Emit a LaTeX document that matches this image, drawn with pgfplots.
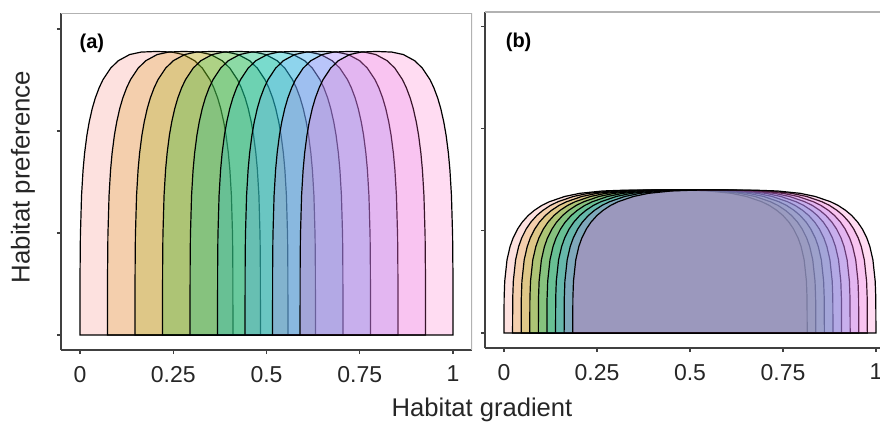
\documentclass[border=0pt]{standalone}
\usepackage{pgfplots}
\pgfplotsset{compat=1.18}
\usepackage{pgfplotstable}
\usepackage{fontspec}
\setmainfont{Liberation Sans}

\definecolor{c0}{HTML}{F8766D}
\definecolor{c1}{HTML}{D39200}
\definecolor{c2}{HTML}{93AA00}
\definecolor{c3}{HTML}{00BA38}
\definecolor{c4}{HTML}{00C19F}
\definecolor{c5}{HTML}{00B9E3}
\definecolor{c6}{HTML}{619CFF}
\definecolor{c7}{HTML}{DB72FB}
\definecolor{c8}{HTML}{FF61C3}

% measured profile of one preference curve, panel (a): offset from left edge, height
\pgfplotstableread{
d y
0 0
0.0002 0.651
0.001 0.972
0.0041 1.369
0.0082 1.620
0.0123 1.784
0.01845 1.959
0.0246 2.088
0.0328 2.221
0.041 2.324
0.05125 2.424
0.0615 2.503
0.082 2.616
0.1025 2.689
0.13325 2.750
0.164 2.774
0.205 2.780
0.246 2.774
0.27675 2.750
0.3075 2.689
0.328 2.616
0.3485 2.503
0.35875 2.424
0.369 2.324
0.3772 2.221
0.3854 2.088
0.39155 1.959
0.3977 1.784
0.4018 1.620
0.4059 1.369
0.409 0.972
0.4098 0.651
0.41 0
}\shapeA

% measured profile, panel (b)
\pgfplotstableread{
d y
0 0
0.0004 0.340
0.00204 0.508
0.00815 0.716
0.0163 0.846
0.02445 0.930
0.03668 1.019
0.0489 1.085
0.0652 1.151
0.0815 1.201
0.10188 1.250
0.12225 1.286
0.163 1.337
0.20375 1.368
0.26488 1.391
0.326 1.399
0.4075 1.400
0.489 1.399
0.55013 1.391
0.61125 1.368
0.652 1.337
0.69275 1.286
0.71313 1.250
0.7335 1.201
0.7498 1.151
0.7661 1.085
0.77833 1.019
0.79055 0.930
0.7987 0.846
0.80685 0.716
0.81296 0.508
0.8146 0.340
0.815 0
}\shapeB

\pgfplotsset{
  panel/.style={
    scale only axis,
    xmin=-0.051, xmax=1.051,
    ymin=-0.147,
    axis x line*=bottom, axis y line*=left,
    axis line style={black!75, line width=0.6pt},
    tick align=outside,
    major tick length=2pt,
    tick style={black!75, line width=0.6pt},
    xtick={0,0.25,0.5,0.75,1},
    xticklabels={0,0.25,0.5,0.75,1},
    ytick={0,1,2,3},
    yticklabels={},
    ticklabel style={font=\fontsize{11.5}{13}\selectfont, text=black!85},
    xticklabel style={yshift=-2.5pt},
  },
  curve/.style={draw=black, line width=0.6pt, fill=#1, fill opacity=0.22},
}

\begin{document}
\begin{tikzpicture}[x=1pt,y=1pt]
% panel (a)
\begin{axis}[panel, at={(30.5pt,37pt)}, anchor=south west,
  width=205.5pt, height=168.5pt, ymax=3.157]
\addplot[curve=c0] table[x expr=\thisrow{d}+0.0, y=y] {\shapeA} \closedcycle;
\addplot[curve=c1] table[x expr=\thisrow{d}+0.07375, y=y] {\shapeA} \closedcycle;
\addplot[curve=c2] table[x expr=\thisrow{d}+0.1475, y=y] {\shapeA} \closedcycle;
\addplot[curve=c3] table[x expr=\thisrow{d}+0.22125, y=y] {\shapeA} \closedcycle;
\addplot[curve=c4] table[x expr=\thisrow{d}+0.295, y=y] {\shapeA} \closedcycle;
\addplot[curve=c5] table[x expr=\thisrow{d}+0.36875, y=y] {\shapeA} \closedcycle;
\addplot[curve=c6] table[x expr=\thisrow{d}+0.4425, y=y] {\shapeA} \closedcycle;
\addplot[curve=c7] table[x expr=\thisrow{d}+0.51625, y=y] {\shapeA} \closedcycle;
\addplot[curve=c8] table[x expr=\thisrow{d}+0.59, y=y] {\shapeA} \closedcycle;
\draw[black!30, line width=0.6pt] (rel axis cs:0,1) -- (rel axis cs:1,1) -- (rel axis cs:1,0);
\node[font=\bfseries\fontsize{10}{12}\selectfont] at (rel axis cs:0.075,0.91) {(a)};
\end{axis}
% panel (b)
\begin{axis}[panel, at={(242.5pt,38pt)}, anchor=south west,
  width=205pt, height=168pt, ymax=3.144]
\addplot[curve=c0] table[x expr=\thisrow{d}+0.0, y=y] {\shapeB} \closedcycle;
\addplot[curve=c1] table[x expr=\thisrow{d}+0.0231, y=y] {\shapeB} \closedcycle;
\addplot[curve=c2] table[x expr=\thisrow{d}+0.0462, y=y] {\shapeB} \closedcycle;
\addplot[curve=c3] table[x expr=\thisrow{d}+0.0693, y=y] {\shapeB} \closedcycle;
\addplot[curve=c4] table[x expr=\thisrow{d}+0.0924, y=y] {\shapeB} \closedcycle;
\addplot[curve=c5] table[x expr=\thisrow{d}+0.1155, y=y] {\shapeB} \closedcycle;
\addplot[curve=c6] table[x expr=\thisrow{d}+0.1386, y=y] {\shapeB} \closedcycle;
\addplot[curve=c7] table[x expr=\thisrow{d}+0.1617, y=y] {\shapeB} \closedcycle;
\addplot[curve=c8] table[x expr=\thisrow{d}+0.1848, y=y] {\shapeB} \closedcycle;
\draw[black!30, line width=0.6pt] (rel axis cs:0,1) -- (rel axis cs:1,1) -- (rel axis cs:1,0);
\node[font=\bfseries\fontsize{10}{12}\selectfont] at (rel axis cs:0.082,0.91) {(b)};
\end{axis}
\node[rotate=90, font=\fontsize{12.9}{15}\selectfont, text=black!85] at (11.5pt,123.5pt) {Habitat preference};
\node[anchor=base, font=\fontsize{12.8}{15}\selectfont, text=black!85] at (241pt,3.7pt) {Habitat gradient};
\pgfresetboundingbox
\useasboundingbox (0,0) rectangle (440pt,212pt);
\end{tikzpicture}
\end{document}
